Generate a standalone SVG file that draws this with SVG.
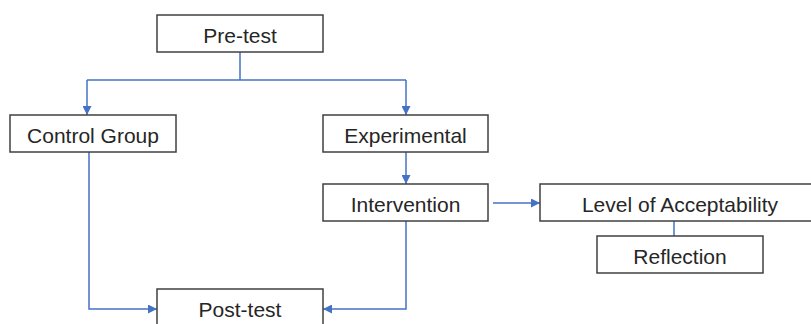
<svg xmlns="http://www.w3.org/2000/svg" width="811" height="324" viewBox="0 0 811 324">
<style>
.box{fill:#fff;stroke:#404040;stroke-width:1.5}
.lbl{font-family:"Liberation Sans",Arial,sans-serif;font-size:21px;fill:#262626;text-anchor:middle}
.ln{fill:none;stroke:#4472C4;stroke-width:1.5}
</style>
<defs>
<marker id="ah" viewBox="0 0 10 10" refX="10" refY="5" markerWidth="6" markerHeight="6" orient="auto" markerUnits="strokeWidth">
<path d="M0,0 L10,5 L0,10 z" fill="#4472C4"/>
</marker>
</defs>
<rect width="811" height="324" fill="#fff"/>
<g id="connectors">
<polyline class="ln" points="240,52 240,80"/>
<polyline class="ln" points="87,80 406,80"/>
<polyline class="ln" points="87,80 87,115" marker-end="url(#ah)"/>
<polyline class="ln" points="406,80 406,115" marker-end="url(#ah)"/>
<polyline class="ln" points="406,152 406,184" marker-end="url(#ah)"/>
<polyline class="ln" points="493,203 540,203" marker-end="url(#ah)"/>
<polyline class="ln" points="674,221 674,236"/>
<polyline class="ln" points="89,152 89,309 157,309" marker-end="url(#ah)"/>
<polyline class="ln" points="406,221 406,309 323,309" marker-end="url(#ah)"/>
</g>
<g id="pretest"><rect class="box" x="157" y="15" width="166" height="37"/><text class="lbl" x="240" y="43">Pre-test</text></g>
<g id="control"><rect class="box" x="10" y="115" width="166" height="37"/><text class="lbl" x="93" y="143">Control Group</text></g>
<g id="experimental"><rect class="box" x="323" y="115" width="165" height="37"/><text class="lbl" x="405.5" y="143">Experimental</text></g>
<g id="intervention"><rect class="box" x="323" y="184" width="165" height="37"/><text class="lbl" x="405.5" y="212">Intervention</text></g>
<g id="acceptability"><rect class="box" x="540" y="184" width="280" height="37"/><text class="lbl" x="680" y="212">Level of Acceptability</text></g>
<g id="reflection"><rect class="box" x="597" y="236" width="166" height="37"/><text class="lbl" x="680" y="264">Reflection</text></g>
<g id="posttest"><rect class="box" x="157" y="289" width="166" height="45"/><text class="lbl" x="240" y="317">Post-test</text></g>
</svg>
